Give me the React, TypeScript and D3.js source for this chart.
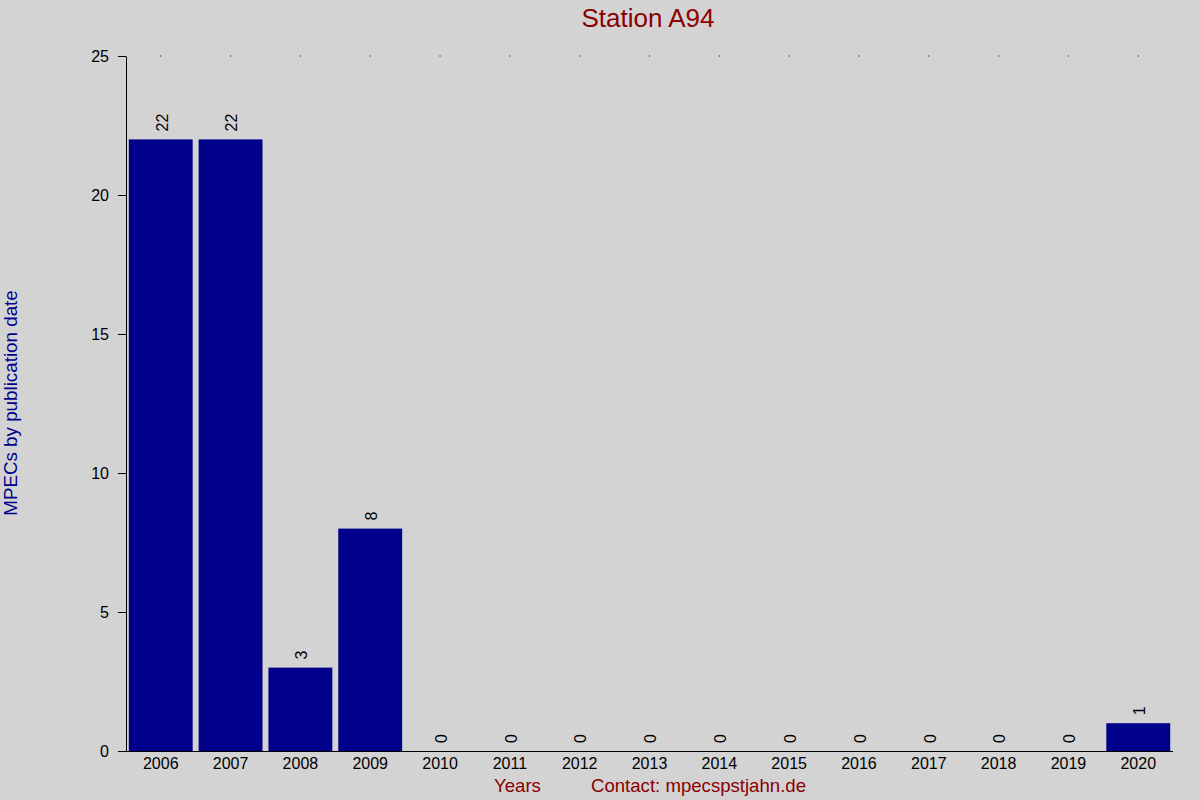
import React, { useRef, useEffect } from 'react';
import { select, scaleBand, scaleLinear, axisLeft, axisBottom } from 'd3';

const years = [
  '2006', '2007', '2008', '2009', '2010', '2011', '2012', '2013',
  '2014', '2015', '2016', '2017', '2018', '2019', '2020',
];
const mpecs = [22, 22, 3, 8, 0, 0, 0, 0, 0, 0, 0, 0, 0, 0, 1];
const yTicks = [0, 5, 10, 15, 20, 25];

const dims = {
  width: 1200,
  height: 800,
  left: 126,
  right: 1173,
  top: 56,
  bottom: 751,
};

const font = '"Liberation Sans", Arial, sans-serif';

const App = () => {
  const svgRef = useRef(null);

  useEffect(() => {
    document.body.style.margin = '0';
    const svg = select(svgRef.current);
    svg.selectAll('*').remove();

    svg
      .append('rect')
      .attr('width', dims.width)
      .attr('height', dims.height)
      .attr('fill', '#d3d3d3');

    const x = scaleBand()
      .domain(years)
      .range([dims.left, dims.right])
      .paddingInner(0.085)
      .paddingOuter(0.04);
    const y = scaleLinear().domain([0, 25]).range([dims.bottom, dims.top]);

    // dots along the top
    svg
      .append('g')
      .selectAll('rect')
      .data(years)
      .join('rect')
      .attr('x', (d) => (x(d) as number) + x.bandwidth() / 2 - 0.5)
      .attr('y', dims.top - 0.5)
      .attr('width', 1)
      .attr('height', 1)
      .attr('fill', '#000');

    svg
      .append('g')
      .selectAll('rect')
      .data(mpecs)
      .join('rect')
      .attr('x', (_, i) => x(years[i]) as number)
      .attr('y', (d) => y(d))
      .attr('width', x.bandwidth())
      .attr('height', (d) => dims.bottom - y(d))
      .attr('fill', '#00008b');

    svg
      .append('g')
      .selectAll('text')
      .data(mpecs)
      .join('text')
      .attr(
        'transform',
        (d, i) =>
          `translate(${(x(years[i]) as number) + x.bandwidth() / 2 + 1},${y(d) - 8}) rotate(-90)`
      )
      .attr('dy', '0.36em')
      .attr('font-family', font)
      .attr('font-size', 16)
      .attr('fill', '#000')
      .text((d) => d);

    const yAxisGroup = svg
      .append('g')
      .attr('transform', `translate(${dims.left},0)`)
      .call(
        axisLeft(y)
          .tickValues(yTicks)
          .tickSize(8)
          .tickPadding(9)
          .tickSizeOuter(0)
      );
    yAxisGroup.select('.domain').attr('stroke', '#000');
    yAxisGroup
      .selectAll('text')
      .attr('font-family', font)
      .attr('font-size', 16)
      .attr('fill', '#000');

    const xAxisGroup = svg
      .append('g')
      .attr('transform', `translate(0,${dims.bottom})`)
      .call(axisBottom(x).tickSize(0).tickPadding(7).tickSizeOuter(0));
    xAxisGroup
      .select('.domain')
      .attr('d', `M${dims.left - 8},0.5H${dims.right}`)
      .attr('stroke', '#000');
    xAxisGroup
      .selectAll('text')
      .attr('font-family', font)
      .attr('font-size', 16)
      .attr('fill', '#000');

    svg
      .append('text')
      .attr('x', 648)
      .attr('y', 27)
      .attr('text-anchor', 'middle')
      .attr('font-family', font)
      .attr('font-size', 26)
      .attr('fill', '#8b0000')
      .text('Station A94');

    svg
      .append('text')
      .attr('transform', `translate(17,403) rotate(-90)`)
      .attr('text-anchor', 'middle')
      .attr('font-family', font)
      .attr('font-size', 18.8)
      .attr('fill', '#00008b')
      .text('MPECs by publication date');

    svg
      .append('text')
      .attr('x', 494)
      .attr('y', 792)
      .attr('font-family', font)
      .attr('font-size', 18.6)
      .attr('fill', '#8b0000')
      .text('Years');

    svg
      .append('text')
      .attr('x', 591)
      .attr('y', 792)
      .attr('font-family', font)
      .attr('font-size', 18.6)
      .attr('fill', '#8b0000')
      .text('Contact: mpecspstjahn.de');
  }, []);

  return (
    <svg
      width={dims.width}
      height={dims.height}
      ref={svgRef}
      style={{ display: 'block' }}
    ></svg>
  );
};

export default App;
